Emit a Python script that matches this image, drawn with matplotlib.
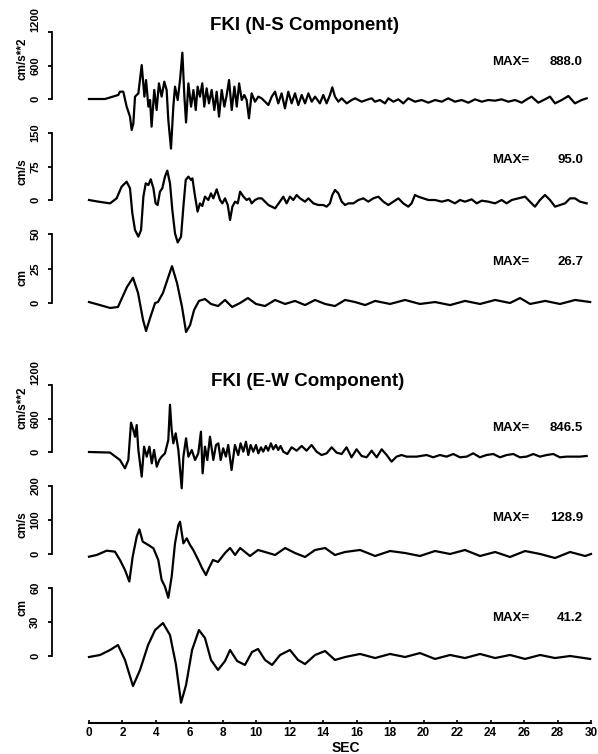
import matplotlib
matplotlib.use('Agg')
import matplotlib.pyplot as plt

plt.rcParams['font.family'] = ['Liberation Sans', 'DejaVu Sans']
plt.rcParams['font.weight'] = 'bold'

# ---------------- data ----------------
title_ns = "FKI (N-S Component)"
title_ew = "FKI (E-W Component)"
x_ticks = list(range(0, 31, 2))
x_label = "SEC"

units = ["cm/s**2", "cm/s", "cm", "cm/s**2", "cm/s", "cm"]
y_tops = [1200, 150, 50, 1200, 200, 60]
y_ticks = [[0, 600, 1200], [0, 75, 150], [0, 25, 50],
           [0, 600, 1200], [0, 100, 200], [0, 30, 60]]
max_labels = ["888.0", "95.0", "26.7", "846.5", "128.9", "41.2"]

ns_acc_t = [0.0, 0.96, 1.75, 1.85, 2.05, 2.25, 2.45, 2.55, 2.65, 2.75, 2.95, 3.15, 3.31, 3.41,
            3.55, 3.65, 3.74, 3.90, 4.04, 4.18, 4.34, 4.50, 4.64, 4.74, 4.90, 5.04, 5.14, 5.30,
            5.44, 5.58, 5.70, 5.80, 5.94, 6.10, 6.24, 6.38, 6.49, 6.63, 6.77, 6.89, 7.03, 7.17,
            7.33, 7.49, 7.63, 7.77, 7.93, 8.09, 8.23, 8.37, 8.53, 8.69, 8.83, 8.97, 9.13, 9.28,
            9.42, 9.56, 9.72, 9.92, 10.12,
            10.32, 10.52, 10.72, 10.92, 11.12, 11.31, 11.51, 11.71, 11.91, 12.11, 12.31, 12.51,
            12.71, 12.91, 13.11, 13.31, 13.51, 13.80, 14.00, 14.20, 14.40, 14.54, 14.70, 14.90,
            15.10, 15.40, 15.70, 15.90, 16.29, 16.69, 16.89, 17.09, 17.39, 17.69, 17.89, 18.19,
            18.49, 18.78, 19.08, 19.48, 19.88, 20.28, 20.68, 21.08, 21.47, 21.87, 22.27, 22.67,
            23.07, 23.47, 23.86, 24.26, 24.66, 25.06, 25.46, 25.86, 26.16, 26.45, 26.85, 27.25,
            27.55, 27.85, 28.25, 28.65, 29.04, 29.44, 29.74]
ns_acc = [0, 0, 72, 131, 131, -137, -316, -555, -436, 42, 101, 608, 42, 340,
          -137, -18, -495, 161, -197, 280, 42, 310, 161, -376, -888, -137, 221, -18,
          340, 830, 42, -420, 280, -137, 161, -197, 221, 42, 280, -137, 191, -78,
          161, -197, 131, -316, 161, -137, 72, 340, -197, 221, -137, 280, -18, 72,
          -18, -346, 101, -48, 42,
          12, -48, -108, 42, 131, -78, 101, -167, 131, -78, 101, -108,
          72, -78, 101, -48, 42, -78, 72, -78, 72, 209, 42, -48,
          12, -78, -18, 12, -48, -6, 12, -48, -18, -78, 12, -48,
          -6, -78, 12, -48, -18, -66, -18, -48, 12, -48, -18, -66,
          -6, -48, -18, -30, -6, -48, -18, -66, -6, 42, -66, -6,
          42, -78, -18, 54, -78, -18, 12]

ns_vel_t = [0.0, 0.56, 1.26, 1.65, 1.95, 2.25, 2.45, 2.59, 2.75, 2.95, 3.11, 3.25, 3.39, 3.55,
            3.69, 3.85, 3.98, 4.10, 4.24, 4.38, 4.54, 4.68, 4.84, 4.98, 5.14, 5.30, 5.50, 5.64,
            5.78, 5.94, 6.10, 6.18, 6.34, 6.49, 6.63, 6.77, 6.93, 7.13, 7.29, 7.43, 7.63, 7.83,
            7.97, 8.13, 8.29, 8.43, 8.57, 8.73, 8.89, 9.03, 9.23, 9.42, 9.58, 9.72, 9.92, 10.12,
            10.32, 10.72, 11.12, 11.41, 11.61, 11.81, 12.01, 12.21, 12.41, 12.61, 12.91, 13.11,
            13.41, 13.70, 14.00, 14.20, 14.40, 14.54, 14.70, 14.90, 15.10, 15.30, 15.50, 15.80,
            16.10, 16.39, 16.69, 16.99, 17.29, 17.59, 17.89, 18.19, 18.49, 18.78, 19.08, 19.28,
            19.48, 19.68, 19.98, 20.28, 20.68, 21.08, 21.47, 21.87, 22.17, 22.47, 22.87, 23.17,
            23.47, 23.86, 24.26, 24.66, 24.96, 25.26, 25.66, 26.06, 26.35, 26.65, 26.95, 27.25,
            27.55, 27.85, 28.15, 28.45, 28.75, 29.04, 29.34, 29.74]
ns_vel = [0, -3.7, -7.5, 3.7, 29.9, 41.1, 26.1, -29.9, -67.2, -82.1, -67.2, 7.5, 37.3, 33.6,
          46.3, 26.1, -7.5, -11.2, 18.7, 26.1, 52.3, 65.7, 37.3, -22.4, -74.7, -95.0, -82.1, -14.9,
          44.8, 52.3, 44.8, 48.5, 7.5, -26.1, -7.5, -13.4, 7.5, 0, 14.9, 3.7, 23.9, 0,
          -7.5, 3.7, -11.2, -44.8, -14.9, -3.7, -7.5, 18.7, 7.5, 0, 3.7, -7.5, 0, 3.7,
          3.7, -11.2, -18.7, -3.7, 7.5, -7.5, 7.5, 0, 11.2, 3.7, -3.7, 3.7,
          -7.5, -11.2, -11.2, -14.9, -7.5, 11.2, 22.4, 14.9, -3.7, -11.2, -7.5, -7.5,
          0, 3.7, -3.7, 3.7, 7.5, -3.7, -11.2, -3.7, 3.7, -7.5, -14.9, -7.5,
          11.2, 7.5, 3.7, 0, 0, -3.7, 0, -7.5, 0, -3.7, 1.5, -7.5,
          -1.5, -3.7, -7.5, 0, -7.5, 0, 3.7, 7.5, -3.7, -14.9, 0, 11.2,
          0, -14.9, -11.2, -7.5, 3.7, 3.7, -3.7, -7.5]

ns_dis_t = [0.0, 0.66, 1.26, 1.73, 2.27, 2.63, 2.93, 3.23, 3.41, 3.65, 3.95, 4.12, 4.42, 4.72,
            4.96, 5.26, 5.56, 5.80, 6.04, 6.28, 6.57, 6.93, 7.29, 7.71, 8.13, 8.55, 9.03, 9.50,
            9.98, 10.52, 11.12, 11.72, 12.31, 12.91, 13.51, 14.11, 14.70, 15.30, 15.90, 16.50,
            17.10, 17.99, 18.89, 19.78, 20.68, 21.58, 22.47, 23.37, 24.27, 25.16, 25.76, 26.36,
            27.26, 28.15, 29.05, 29.95]
ns_dis = [0.7, -1.5, -3.6, -2.9, 11.6, 18.3, 7.3, -12.3, -20.3, -10.9, 0, 0.7, 7.3, 18.1,
          26.7, 14.5, -2.9, -21.0, -16.0, -5.1, 1.5, 2.9, -0.7, -2.2, 2.2, -2.9, 0, 3.6,
          -0.7, -2.2, 2.2, -0.7, 1.5, -1.5, 2.2, -0.7, -2.2, 2.2, 0.7, -1.5,
          1.5, -0.7, 2.2, -0.7, 0.7, -1.5, 1.5, -0.7, 2.2, 0, 3.6, -0.7,
          1.5, -0.7, 2.2, 0.7]

ew_acc_t = [0.0, 1.26, 1.45, 1.85, 2.15, 2.35, 2.51, 2.65, 2.75, 2.85, 2.95, 3.15, 3.29, 3.45,
            3.61, 3.75, 3.89, 4.05, 4.20, 4.34, 4.54, 4.74, 4.84, 4.94, 5.04, 5.18, 5.34, 5.54,
            5.64, 5.80, 5.94, 6.14, 6.34, 6.53, 6.69, 6.79, 6.93, 7.07, 7.23, 7.43, 7.59, 7.73,
            7.87, 8.02, 8.18, 8.32, 8.52, 8.72, 8.92, 9.06, 9.22, 9.38, 9.52, 9.66, 9.82, 9.98,
            10.12, 10.28, 10.41, 10.57, 10.71, 10.87, 11.01, 11.17, 11.31, 11.45, 11.61, 11.85,
            12.11, 12.41, 12.71, 13.00, 13.30, 13.60, 13.90, 14.20, 14.50, 14.80, 15.10, 15.39,
            15.69, 15.99, 16.29, 16.59, 16.89, 17.19, 17.49, 17.79, 18.08, 18.38, 18.68, 18.98,
            19.58, 20.18, 20.57, 20.97, 21.37, 21.77, 22.17, 22.57, 22.96, 23.36, 23.76, 24.16,
            24.56, 24.96, 25.36, 25.75, 26.15, 26.55, 26.95, 27.35, 27.75, 28.14, 28.54, 28.94,
            29.34, 29.74]
ew_acc = [0, -10, -54, -143, -292, -143, 525, 394, 274, 483, 36, -442, 95, -84,
          95, -203, 36, -263, -143, -84, -24, 215, 846.5, 394, 155, 334, 36, -650,
          -84, 245, -84, 36, -143, -24, 364, -382, 96, -143, 275, -143, 125, 155,
          -143, 66, -83, 125, -322, 125, -54, 155, 6, 185, -54, 125, 6, 125,
          -24, 84, 6, 108, 24, 155, 48, 125, 36, 108, 6, -36,
          84, 24, 108, 24, 125, 6, -54, -24, 84, -12, -36, 84,
          -95, 48, -71, -95, 24, -95, 48, -54, -173, -83, -54, -83,
          -83, -54, -95, -54, -83, -36, -95, -83, -24, -95, -54, -36,
          -95, -54, -36, -95, -83, -36, -83, -54, -36, -95, -83, -83,
          -83, -71]

ew_vel_t = [0.0, 0.46, 1.06, 1.55, 1.85, 2.15, 2.41, 2.61, 2.85, 3.01, 3.21, 3.55, 3.85, 4.14,
            4.34, 4.54, 4.74, 4.94, 5.14, 5.34, 5.44, 5.64, 5.84, 6.04, 6.23, 6.53, 6.75, 6.99,
            7.17, 7.41, 7.71, 8.13, 8.43, 8.73, 9.03, 9.62, 10.10, 10.52, 11.12, 11.72, 12.31,
            12.91, 13.51, 14.11, 14.70, 15.30, 16.20, 17.10, 17.99, 18.89, 19.78, 20.68, 21.58,
            22.47, 23.37, 24.27, 25.16, 26.06, 26.96, 27.85, 28.75, 29.65, 30.0]
ew_vel = [-7.9, -2.9, 9.8, 6.9, -17.6, -47.0, -81.0, -7.9, 51.0, 72.5, 36.3, 26.5, 16.7, -17.6,
          -76.0, -96.0, -128.9, -66.6, 31.4, 85.3, 95.0, 31.4, 46.0, 26.5, 11.8, -17.6, -41.0, -62.0,
          -41.0, -17.6, -23.5, 2.9, 17.6, -2.9, 17.6, -5.9, 11.8, 5.9, -2.9, 17.6, 2.9,
          -8.8, 11.8, 17.6, -2.9, 5.9, 11.8, -5.9, 8.8, 2.9, -5.9, 8.8, 0,
          11.8, -5.9, 5.9, -8.8, 8.8, 0, -11.8, 5.9, -5.9, 0]

ew_dis_t = [0.0, 0.66, 1.26, 1.73, 2.15, 2.63, 3.05, 3.53, 3.95, 4.42, 4.84, 5.20, 5.50, 5.80,
            6.16, 6.57, 6.93, 7.29, 7.71, 8.13, 8.43, 8.85, 9.32, 9.74, 10.10, 10.52, 10.94,
            11.42, 12.01, 12.49, 12.91, 13.51, 14.11, 14.70, 15.30, 16.20, 17.10, 17.99, 18.89,
            19.78, 20.68, 21.58, 22.47, 23.37, 24.27, 25.16, 26.06, 26.96, 27.85, 28.75, 29.95]
ew_dis = [-0.9, 0.9, 5.3, 9.7, -3.5, -26.5, -12.3, 9.7, 22.9, 29.1, 18.5, -7.9, -41.2, -25.6,
          5.3, 22.9, 15.9, -3.5, -12.3, -4.4, 5.3, -4.4, -7.9, 3.5, 6.2, -3.5, -7.9,
          0.9, 5.3, -3.5, -7.1, 0.9, 4.4, -3.5, -0.9, 1.8, -1.8, 1.8, -0.9,
          2.6, -2.6, 0.9, -1.8, 1.8, -1.8, 0.9, -2.6, 0.9, -1.8, 0, -2.6]

traces = [(ns_acc_t, ns_acc), (ns_vel_t, ns_vel), (ns_dis_t, ns_dis),
          (ew_acc_t, ew_acc), (ew_vel_t, ew_vel), (ew_dis_t, ew_dis)]

# ---------------- layout (pixels) ----------------
W, H = 598, 754
fig = plt.figure(figsize=(W / 100, H / 100), dpi=100)
X0, X1 = 89, 591
zero_px = [99, 200, 303, 452, 554, 656]
top_px = [32, 133, 234, 385, 486, 588]
unit_y = [59, 172, 277, 408, 525, 607]
max_y = [62, 160, 262, 428, 518, 618]


def fx(x):
    return x / W


def fy(y):
    return 1 - y / H


for i in range(6):
    ax = fig.add_axes([fx(X0), fy(zero_px[i]), (X1 - X0) / W, (zero_px[i] - top_px[i]) / H])
    ax.patch.set_alpha(0)
    ax.set_xlim(0, 30)
    ax.set_ylim(0, y_tops[i])
    for s in ['top', 'right', 'bottom']:
        ax.spines[s].set_visible(False)
    ax.spines['left'].set_position(('outward', 26.6))
    ax.spines['left'].set_bounds(0, y_tops[i])
    ax.spines['left'].set_linewidth(1.3)
    ax.set_xticks([])
    ax.set_yticks(y_ticks[i])
    labs = ax.set_yticklabels([str(v) for v in y_ticks[i]], rotation=90, va='center',
                              fontsize=8, fontweight='bold')
    if i in (0, 3):
        labs[-1].set_va('bottom')
    ax.tick_params(axis='y', direction='out', length=3, width=1.3, pad=5.5)
    t, v = traces[i]
    ax.plot(t, v, color='black', lw=1.6, clip_on=False, solid_joinstyle='round')
    fig.text(fx(22), fy(unit_y[i]), units[i], rotation=90, ha='center', va='center',
             fontsize=8.5, fontweight='bold')
    fig.text(fx(529), fy(max_y[i]), "MAX=", ha='right', va='center', fontsize=9.5,
             fontweight='bold')
    fig.text(fx(583), fy(max_y[i]), max_labels[i], ha='right', va='center', fontsize=9.5,
             fontweight='bold')

fig.text(fx(305), fy(25), title_ns, ha='center', va='center', fontsize=13.5, fontweight='bold')
fig.text(fx(308), fy(382), title_ew, ha='center', va='center', fontsize=13.5, fontweight='bold')

axb = fig.add_axes([fx(X0), fy(723), (X1 - X0) / W, 5 / H])
axb.patch.set_alpha(0)
for s in ['top', 'right', 'left']:
    axb.spines[s].set_visible(False)
axb.spines['bottom'].set_linewidth(1.5)
axb.set_xlim(0, 30)
axb.set_yticks([])
axb.set_xticks(x_ticks)
axb.set_xticklabels([str(v) for v in x_ticks], fontsize=8.5, fontweight='bold')
axb.tick_params(axis='x', direction='in', length=2.5, width=1.2, pad=3)
fig.text(fx(346), fy(747.5), x_label, ha='center', va='center', fontsize=10, fontweight='bold')

fig.savefig('out.png', dpi=100)
